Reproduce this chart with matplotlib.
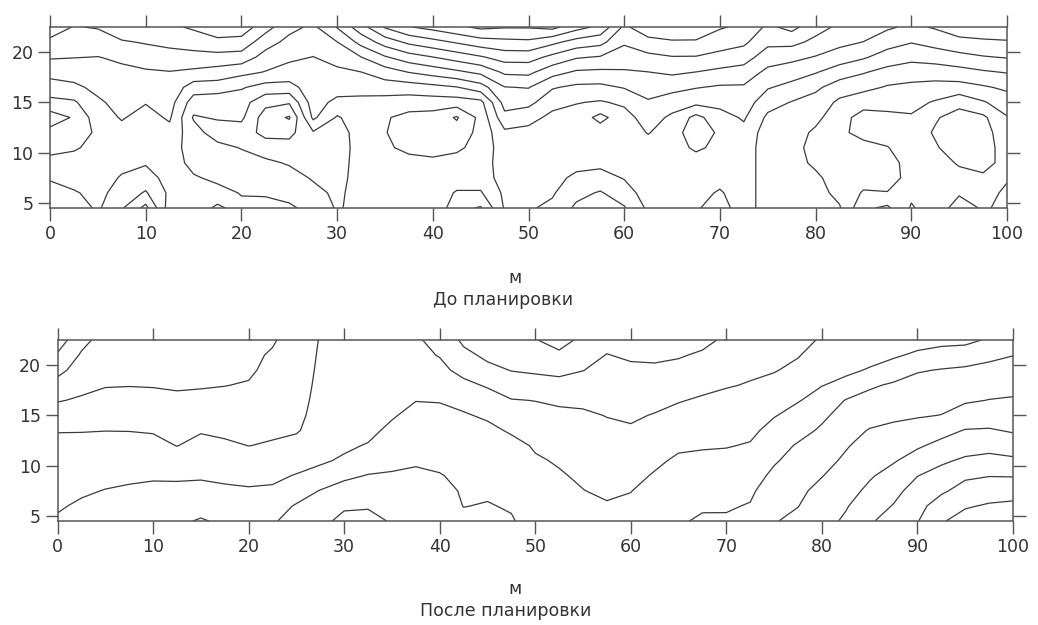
import numpy as np
import matplotlib.pyplot as plt

# сетка профиля: расстояние (м) и вертикальная координата
x_m = np.arange(0, 100.1, 2.5)
y_m = np.arange(4.5, 22.6, 1.5)

# поле "до планировки", по столбцам x = 0, 2.5, ... 100 (значения снизу вверх)
before_cols = [
    [-1.2, -0.9, -0.4, -0.1, -0.9, -1.2, -2.0, -0.8, 0.1, 0.8, 1.6, 2.3, 3.0],
    [-1.0, -0.6, -0.1, 0.0, -0.65, -1.1, -1.4, -0.65, 0.3, 0.92, 1.53, 2.03, 2.45],
    [-0.35, -0.2, 0.0, 0.0, -0.1, -0.3, 0.05, 0.35, 0.74, 1.11, 1.48, 2.02, 2.57],
    [-1.4, -0.95, -0.6, -0.2, 0.0, 0.2, 0.58, 0.82, 1.06, 1.31, 1.65, 2.4, 3.15],
    [-2.8, -1.6, -0.95, -0.4, 0.0, 0.0, 0.15, 0.55, 0.94, 1.38, 1.96, 2.58, 3.2],
    [0.0, -0.3, -0.1, 0.0, 0.0, 0.2, 0.63, 0.91, 1.19, 1.46, 2.09, 2.77, 3.3],
    [-0.2, 0.0, -0.4, -0.8, -1.0, -1.1, -1.6, -1.0, 0.0, 1.3, 2.17, 2.93, 3.65],
    [-0.6, -0.2, -0.7, -1.0, -1.2, -2.0, -1.4, -1.2, 0.0, 1.08, 2.17, 3.21, 4.2],
    [-0.3, -0.55, -0.8, -1.1, -1.55, -2.0, -1.3, -1.1, -0.4, 0.77, 2.08, 3.13, 4.1],
    [-0.2, -0.6, -1.0, -1.3, -2.0, -2.8, -3.0, -2.2, -0.9, 0.45, 1.12, 1.94, 2.9],
    [-0.35, -0.8, -1.1, -1.6, -2.1, -2.8, -3.6, -2.4, -0.9, 0.15, 0.68, 1.21, 1.8],
    [-0.8, -1.2, -1.6, -1.9, -2.0, -1.6, -0.3, 0.0, 0.1, 0.3, 0.48, 0.9, 1.3],
    [-1.6, -1.7, -1.9, -2.0, -2.1, -2.0, -1.6, -0.8, 0.0, 0.3, 0.85, 1.48, 2.57],
    [-1.2, -1.1, -1.0, -1.0, -1.0, -1.0, -1.0, -0.8, -0.1, 0.48, 1.48, 2.83, 4.1],
    [-1.0, -1.0, -1.0, -1.0, -1.3, -1.45, -1.4, -0.9, 0.0, 1.0, 2.4, 3.94, 5.6],
    [-1.0, -1.0, -1.0, -1.1, -1.8, -2.0, -1.8, -1.0, 0.0, 1.52, 3.06, 4.72, 6.45],
    [-0.55, -0.9, -1.0, -1.2, -2.0, -2.2, -1.9, -1.0, 0.2, 1.9, 3.48, 5.17, 6.83],
    [-2.2, -1.6, -1.0, -1.1, -1.7, -2.1, -2.6, -1.0, 0.45, 2.28, 3.94, 5.61, 7.28],
    [-2.6, -1.6, -1.0, -1.0, -1.1, -1.2, -1.2, -0.8, 1.06, 2.72, 4.39, 6.06, 7.72],
    [-0.4, -0.3, -0.1, 0.0, 0.0, 0.3, 1.21, 1.88, 2.46, 3.67, 4.92, 6.23, 7.58],
    [-0.4, -0.3, -0.2, -0.1, 0.0, 0.15, 0.91, 1.76, 2.55, 3.73, 4.92, 6.3, 7.58],
    [-0.7, -0.4, -0.2, 0.0, 0.0, 0.0, 0.2, 0.89, 1.58, 2.86, 4.23, 5.75, 7.8],
    [-1.7, -1.2, -0.7, -0.2, 0.0, 0.0, 0.1, 0.55, 1.3, 2.35, 3.6, 5.1, 6.88],
    [-2.2, -1.6, -0.8, -0.3, 0.0, 0.0, -0.8, 0.4, 1.26, 2.29, 3.42, 4.81, 6.26],
    [-1.6, -0.9, -0.45, -0.1, 0.0, 0.0, 0.1, 0.68, 1.56, 2.39, 3.02, 3.63, 4.3],
    [-0.3, -0.1, 0.0, 0.0, 0.1, 0.55, 0.97, 1.39, 1.92, 2.48, 3.25, 4.17, 5.17],
    [0.0, 0.0, 0.0, 0.0, 0.0, 0.05, 0.3, 1.0, 1.79, 2.66, 3.45, 4.38, 5.3],
    [-0.4, -0.2, 0.0, 0.0, -0.7, -1.2, -0.8, 0.76, 1.55, 2.48, 3.44, 4.38, 5.2],
    [-0.9, -0.6, -0.2, 0.0, -0.2, -0.3, 0.1, 0.81, 1.38, 2.25, 3.19, 3.95, 4.6],
    [0.0, 0.0, 0.0, 0.0, 0.0, 0.2, 0.62, 1.0, 1.38, 2.09, 2.92, 3.7, 4.3],
    [-1.0, -1.0, -1.0, -1.0, -1.0, -1.0, -0.7, -0.1, 0.58, 1.24, 2.0, 2.73, 3.3],
    [-1.0, -1.0, -1.0, -1.1, -1.1, -1.0, -0.9, -0.55, 0.2, 0.95, 1.77, 2.79, 3.8],
    [-1.0, -1.1, -1.3, -1.7, -1.9, -1.7, -1.2, -0.9, -0.3, 0.56, 1.44, 2.24, 2.9],
    [-1.4, -1.8, -2.0, -2.2, -2.3, -2.3, -2.2, -1.7, -1.0, 0.0, 1.0, 1.78, 2.3],
    [-3.3, -2.6, -2.1, -2.0, -2.2, -2.8, -2.8, -2.2, -1.2, -0.43, 0.62, 1.48, 2.1],
    [-3.7, -2.55, -2.0, -2.0, -2.45, -3.0, -2.7, -2.2, -1.6, -0.83, 0.06, 0.9, 1.65],
    [-2.4, -2.7, -2.9, -3.0, -3.1, -3.0, -2.6, -2.2, -1.75, -1.0, -0.25, 0.55, 1.3],
    [-3.0, -3.0, -3.0, -3.1, -3.4, -3.6, -3.4, -2.6, -1.85, -1.03, -0.07, 0.87, 1.6],
    [-3.9, -3.4, -3.2, -3.6, -4.0, -4.1, -3.9, -3.2, -1.88, -0.88, 0.19, 1.19, 2.1],
    [-3.4, -3.3, -3.4, -3.7, -3.9, -3.9, -3.7, -2.6, -1.62, -0.63, 0.43, 1.32, 2.2],
    [-3.7, -3.6, -3.45, -3.3, -3.1, -2.9, -2.56, -2.0, -1.32, -0.45, 0.56, 1.39, 2.3],
]

# поле "после планировки"
after_cols = [
    [4.6, 4.41, 4.23, 4.04, 3.86, 3.67, 3.47, 2.96, 2.44, 1.84, 1.22, 0.6, 0.0],
    [4.85, 4.62, 4.39, 4.17, 3.94, 3.71, 3.47, 3.04, 2.61, 2.26, 1.93, 1.61, 1.2],
    [4.95, 4.75, 4.53, 4.27, 4.01, 3.75, 3.49, 3.14, 2.78, 2.45, 2.3, 2.1, 1.9],
    [5.05, 4.85, 4.6, 4.37, 4.08, 3.8, 3.48, 3.17, 2.83, 2.47, 2.25, 2.1, 1.95],
    [5.1, 4.9, 4.65, 4.42, 4.09, 3.76, 3.43, 3.1, 2.77, 2.45, 2.2, 2.05, 1.9],
    [5.3, 5.0, 4.7, 4.38, 3.94, 3.48, 3.22, 2.95, 2.67, 2.4, 2.2, 2.05, 1.95],
    [5.6, 5.1, 4.7, 4.42, 4.09, 3.76, 3.43, 3.09, 2.75, 2.42, 2.25, 2.1, 2.0],
    [5.3, 5.0, 4.65, 4.32, 3.98, 3.64, 3.33, 3.06, 2.78, 2.48, 2.35, 2.25, 2.15],
    [5.25, 4.95, 4.6, 4.23, 3.86, 3.49, 3.27, 3.04, 2.82, 2.57, 2.35, 2.3, 2.35],
    [5.4, 5.0, 4.62, 4.33, 3.95, 3.57, 3.38, 3.23, 3.08, 2.93, 2.78, 2.6, 2.4],
    [5.85, 5.6, 4.95, 4.55, 4.17, 3.78, 3.42, 3.3, 3.2, 3.12, 3.05, 3.0, 2.95],
    [6.2, 5.9, 5.55, 4.75, 4.4, 4.1, 3.9, 3.8, 3.75, 3.7, 3.65, 3.6, 3.55],
    [6.8, 6.35, 5.9, 5.3, 4.6, 4.38, 4.22, 4.1, 4.0, 3.95, 3.9, 3.85, 3.8],
    [6.85, 6.4, 6.0, 5.55, 5.0, 4.55, 4.3, 4.17, 4.07, 4.0, 3.95, 3.9, 3.85],
    [6.4, 6.15, 5.9, 5.6, 5.25, 4.95, 4.68, 4.42, 4.25, 4.1, 4.0, 3.95, 3.9],
    [6.1, 6.0, 5.85, 5.65, 5.4, 5.2, 5.0, 4.75, 4.48, 4.1, 3.9, 3.75, 3.6],
    [6.05, 5.95, 5.8, 5.55, 5.3, 5.15, 4.95, 4.75, 4.45, 4.1, 3.75, 3.45, 3.25],
    [5.7, 5.48, 5.4, 5.3, 5.2, 5.05, 4.85, 4.6, 4.2, 3.75, 3.2, 2.75, 2.3],
    [5.75, 5.55, 5.38, 5.25, 5.1, 4.95, 4.75, 4.35, 3.95, 3.4, 2.75, 2.3, 1.9],
    [5.58, 5.42, 5.3, 5.15, 5.0, 4.8, 4.38, 3.95, 3.55, 2.95, 2.47, 2.1, 1.85],
    [5.1, 5.0, 4.9, 4.75, 4.6, 4.4, 4.1, 3.8, 3.48, 2.95, 2.35, 1.9, 1.55],
    [4.95, 4.85, 4.72, 4.58, 4.42, 4.27, 4.05, 3.75, 3.32, 2.8, 2.27, 1.7, 1.1],
    [4.7, 4.62, 4.52, 4.37, 4.25, 4.1, 3.9, 3.65, 3.3, 2.9, 2.48, 2.15, 1.75],
    [4.7, 4.58, 4.35, 4.2, 4.05, 3.9, 3.7, 3.47, 3.3, 3.05, 2.8, 2.53, 2.2],
    [4.75, 4.65, 4.48, 4.25, 4.05, 3.85, 3.6, 3.38, 3.2, 3.0, 2.7, 2.35, 2.0],
    [5.15, 5.0, 4.8, 4.58, 4.33, 4.1, 3.85, 3.55, 3.25, 3.0, 2.68, 2.3, 1.95],
    [5.4, 5.3, 5.15, 4.95, 4.65, 4.35, 4.05, 3.75, 3.45, 3.15, 2.82, 2.4, 1.8],
    [5.62, 5.4, 5.2, 4.98, 4.7, 4.42, 4.15, 3.85, 3.6, 3.3, 3.0, 2.65, 2.2],
    [5.6, 5.42, 5.2, 5.0, 4.75, 4.45, 4.2, 3.95, 3.7, 3.45, 3.2, 2.95, 2.7],
    [5.7, 5.55, 5.35, 5.1, 4.85, 4.57, 4.3, 4.05, 3.8, 3.55, 3.38, 3.2, 3.0],
    [6.45, 6.25, 6.0, 5.7, 5.4, 5.1, 4.8, 4.45, 4.05, 3.75, 3.45, 3.25, 3.05],
    [6.7, 6.48, 6.32, 6.1, 5.85, 5.6, 5.15, 4.8, 4.45, 4.0, 3.7, 3.45, 3.2],
    [7.15, 6.95, 6.75, 6.47, 6.2, 5.95, 5.65, 5.3, 4.8, 4.48, 4.15, 3.85, 3.6],
    [7.65, 7.42, 7.15, 6.9, 6.65, 6.42, 6.2, 5.9, 5.55, 4.68, 4.38, 4.25, 4.1],
    [8.4, 8.05, 7.7, 7.4, 7.15, 6.85, 6.55, 6.2, 5.85, 5.35, 4.55, 4.3, 4.15],
    [8.85, 8.55, 8.22, 7.85, 7.42, 7.0, 6.75, 6.3, 6.0, 5.65, 4.92, 4.38, 4.1],
    [9.45, 9.2, 8.9, 8.48, 7.9, 7.38, 6.9, 6.42, 6.1, 5.85, 5.42, 4.65, 4.15],
    [10.4, 9.95, 9.35, 8.85, 8.35, 7.75, 7.2, 6.52, 6.2, 5.9, 5.55, 4.9, 4.2],
    [10.9, 10.4, 9.85, 9.35, 8.65, 8.1, 7.55, 6.9, 6.4, 6.05, 5.65, 5.0, 4.25],
    [11.1, 10.6, 10.05, 9.47, 8.78, 8.2, 7.58, 7.05, 6.52, 6.2, 5.8, 5.25, 4.62],
    [11.2, 10.7, 10.1, 9.45, 8.7, 7.95, 7.42, 7.0, 6.58, 6.25, 5.85, 5.48, 5.1],
]

before_levels = np.arange(-4.5, 8.6, 1.0)
after_levels = np.arange(0.5, 11.0, 1.0)

W, H = 1038, 625
fig = plt.figure(figsize=(W / 100, H / 100), dpi=100)

line_c = '#3a3a3a'
frame_c = '#555555'
text_c = '#333333'


def make_panel(rect_px, cols, levels):
    l, t, r, b = rect_px
    ax = fig.add_axes([l / W, 1 - b / H, (r - l) / W, (b - t) / H])
    z = np.array(cols).T
    ax.contour(x_m, y_m, z, levels=levels, colors=line_c, linewidths=0.9,
               linestyles='solid')
    ax.set_xlim(0, 100)
    ax.set_ylim(4.5, 22.5)
    ax.set_xticks(range(0, 101, 10))
    ax.set_yticks([5, 10, 15, 20])
    ax.tick_params(direction='out', length=9, width=1.0, color=frame_c,
                   top=True, right=True, labeltop=False, labelright=False,
                   labelsize=12.5, labelcolor=text_c, pad=3)
    for s in ax.spines.values():
        s.set_color(frame_c)
        s.set_linewidth(1.1)
    return ax


ax1 = make_panel((50, 27, 1007, 208), before_cols, before_levels)
ax2 = make_panel((57.5, 340, 1013, 521), after_cols, after_levels)

fig.text(515 / W, 1 - 278 / H, 'м', ha='center', va='center', fontsize=12.5, color=text_c)
fig.text(503 / W, 1 - 300 / H, 'До планировки', ha='center', va='center', fontsize=12.5, color=text_c)
fig.text(515 / W, 1 - 589 / H, 'м', ha='center', va='center', fontsize=12.5, color=text_c)
fig.text(506 / W, 1 - 611 / H, 'После планировки', ha='center', va='center', fontsize=12.5, color=text_c)

fig.savefig('out.png', dpi=100, facecolor='white')
